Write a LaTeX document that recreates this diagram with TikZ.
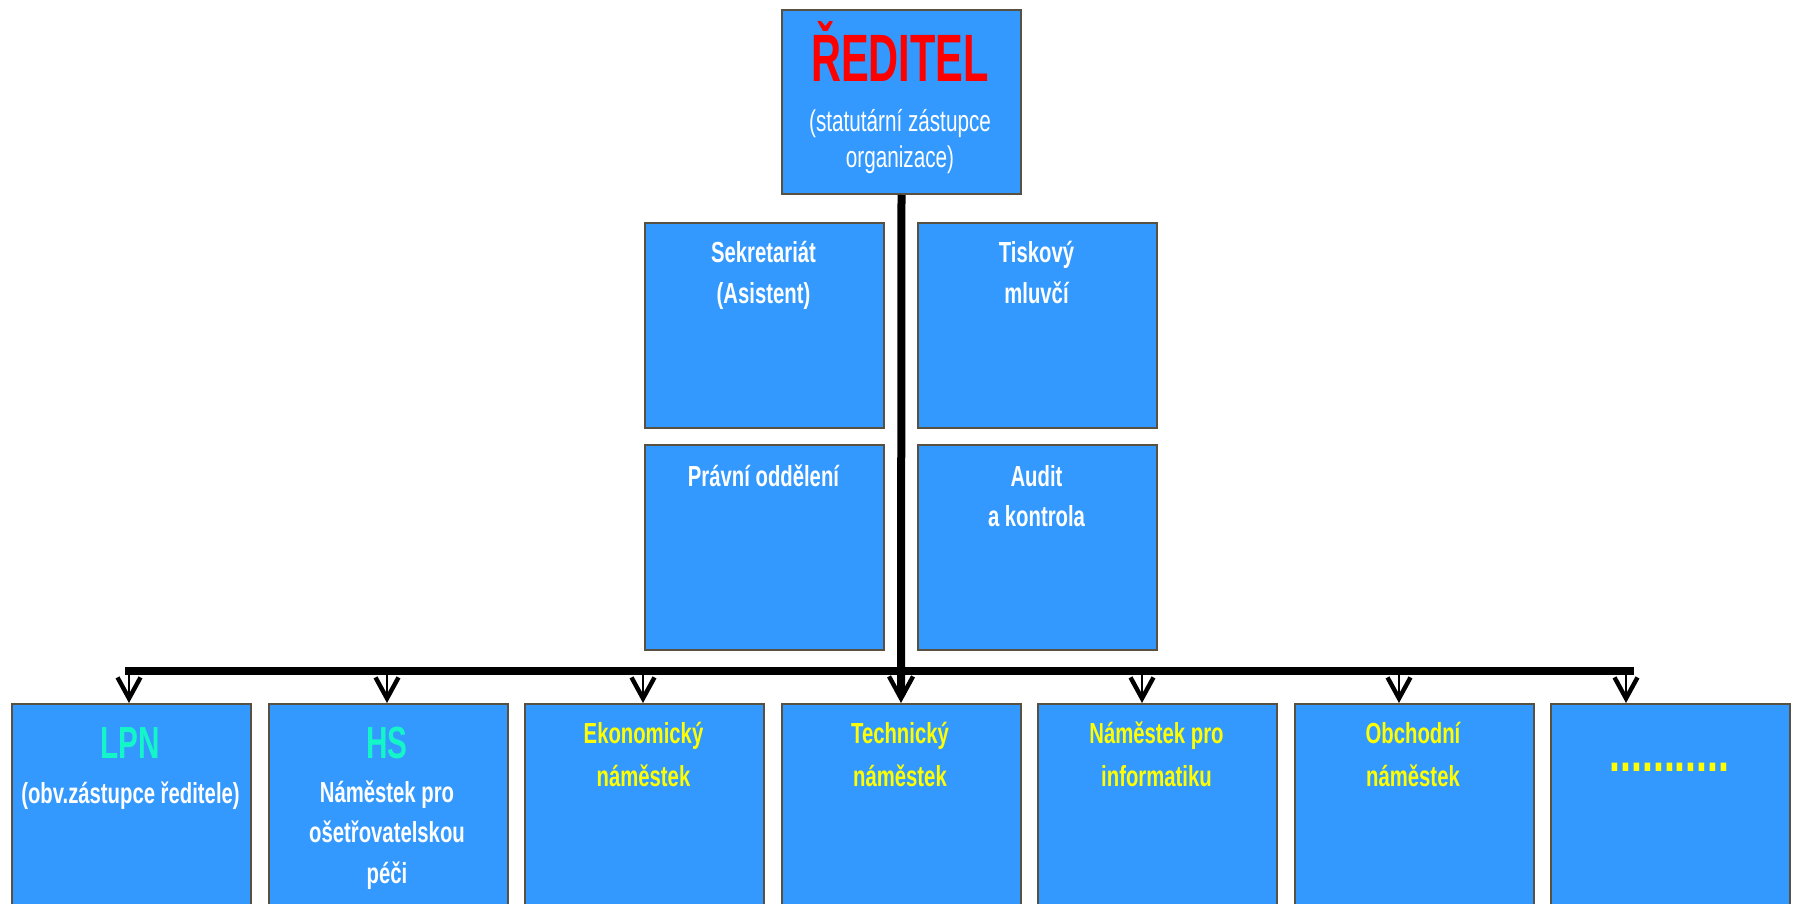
\documentclass[tikz,border=0pt]{standalone}
\usepackage{fontspec}
\usepackage{graphicx}
\usetikzlibrary{arrows.meta}
\newfontfamily\fBody{Liberation Sans}[FakeStretch=0.70]
\newfontfamily\fTitle{Liberation Sans}[FakeStretch=0.62]
\newfontfamily\fReg{Liberation Sans}[FakeStretch=0.69]
\newfontfamily\fBig{Liberation Sans}[FakeStretch=0.66]
\definecolor{boxblue}{RGB}{51,153,255}
\definecolor{boxedge}{RGB}{88,80,64}
\definecolor{aquaT}{RGB}{20,245,200}
\definecolor{yellowT}{RGB}{255,255,0}
\tikzset{
  box/.style={draw=boxedge, line width=1pt, fill=boxblue, inner sep=0pt,
    anchor=north west, minimum width=119.5pt},
  toprow/.style={box, minimum height=92pt},
  midrow/.style={box, minimum height=102.5pt},
  lowrow/.style={box, minimum height=110pt},
  txt/.style={anchor=base, align=center, inner sep=0pt, text=white,
    font=\fBody\bfseries\fontsize{14.5}{20.5}\selectfont},
  ytxt/.style={txt, text=yellowT, font=\fBody\bfseries\fontsize{14.5}{21.5}\selectfont},
  bigtxt/.style={anchor=base, inner sep=0pt, text=aquaT,
    font=\fBig\bfseries\fontsize{22.5}{26}\selectfont},
  conn/.style={line width=0.7pt, -{Straight Barb[length=10.5pt,width=11.5pt,line width'=2.2pt]}},
  trunk/.style={line width=4pt, -{Straight Barb[length=11pt,width=12pt,line width'=2.2pt]}},
  barline/.style={line width=4pt}
}
\begin{document}
\begin{tikzpicture}[x=0.5pt,y=-0.5pt]
\useasboundingbox (0,0) rectangle (1795,904);
\clip (0,0) rectangle (1795,904);
% boxes
\node[toprow] (red) at (781,9) {};
\node[midrow] (sek) at (644,222) {};
\node[midrow] (tisk) at (917,222) {};
\node[midrow] (prav) at (644,444) {};
\node[midrow] (audit) at (917,444) {};
\node[lowrow] (b1) at (11,703) {};
\node[lowrow] (b2) at (267.5,703) {};
\node[lowrow] (b3) at (524,703) {};
\node[lowrow] (b4) at (780.5,703) {};
\node[lowrow] (b5) at (1037,703) {};
\node[lowrow] (b6) at (1293.5,703) {};
\node[lowrow] (b7) at (1550,703) {};
% texts (multi-line nodes are placed at the baseline of their last line)
\node[anchor=base, inner sep=0pt, text=red, font=\fTitle\bfseries\fontsize{33.5}{40}\selectfont] (tRed) at (900,82) {ŘEDITEL};
\node[anchor=base, align=center, inner sep=0pt, text=white, font=\fReg\fontsize{15}{18}\selectfont] (tStat) at (900,168) {(statutární zástupce\\organizace)};
\node[txt] (tSek) at (763.5,303) {Sekretariát\\(Asistent)};
\node[txt] (tTisk) at (1036.5,303) {Tiskový\\mluvčí};
\node[txt] (tPrav) at (763.5,486) {Právní oddělení};
\node[txt, font=\fBody\bfseries\fontsize{14.5}{20}\selectfont] (tAudit) at (1036.5,526) {Audit\\a kontrola};
\node[bigtxt] (tLPN) at (130.5,758) {LPN};
\node[txt] (tLPN2) at (130.5,803) {(obv.zástupce ředitele)};
\node[bigtxt] (tHS) at (387,758) {HS};
\node[txt, font=\fBody\bfseries\fontsize{14.5}{20.25}\selectfont] (tHS2) at (387,883) {Náměstek pro\\ošetřovatelskou\\péči};
\node[ytxt] (tEko) at (643.5,786) {Ekonomický\\náměstek};
\node[ytxt] (tTech) at (900,786) {Technický\\náměstek};
\node[ytxt] (tInf) at (1156.5,786) {Náměstek pro\\informatiku};
\node[ytxt] (tObch) at (1413,786) {Obchodní\\náměstek};
\node[anchor=center, inner sep=0pt, text=yellowT, font=\fBody\bfseries\fontsize{28}{30}\selectfont] (tDots) at (1669.5,767) {...........};
% connectors
\coordinate (barL) at (125,671);
\coordinate (barR) at (1634,671);
\coordinate (c1) at (129,671);
\coordinate (c2) at (387,671);
\coordinate (c3) at (643,671);
\coordinate (c5) at (1142,671);
\coordinate (c6) at (1399,671);
\coordinate (c7) at (1626,671);
\draw[conn] (c1) -- (c1 |- b1.north);
\draw[conn] (c2) -- (c2 |- b2.north);
\draw[conn] (c3) -- (c3 |- b3.north);
\draw[conn] (c5) -- (c5 |- b5.north);
\draw[conn] (c6) -- (c6 |- b6.north);
\draw[conn] (c7) -- (c7 |- b7.north);
\draw[barline] (barL) -- (barR);
\draw[trunk] (red.south) -- (b4.north);
\end{tikzpicture}
\end{document}
